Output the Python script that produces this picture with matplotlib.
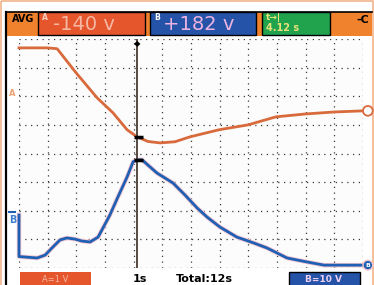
import numpy as np
import matplotlib.pyplot as plt
import matplotlib.patheffects as pe
from matplotlib.patches import Rectangle, Circle

# trace A (orange), time in s, level in divisions
t_a = [0, 1.0, 1.33, 1.99, 2.72, 3.28, 3.77, 4.12, 4.5, 4.92, 5.44, 5.96, 6.98, 7.99, 8.96, 9.98, 10.99, 12.0]
v_a = [7.69, 7.69, 7.66, 6.82, 5.95, 5.42, 4.83, 4.58, 4.42, 4.37, 4.41, 4.58, 4.83, 5.0, 5.28, 5.38, 5.45, 5.49]

# trace B (blue)
t_b = [0, 0, 0.63, 0.91, 1.15, 1.43, 1.67, 1.95, 2.2, 2.48, 2.76, 2.93, 3.17, 3.45, 3.77, 3.98, 4.12, 4.29,
       4.81, 5.37, 5.79, 6.21, 6.56, 7.01, 7.60, 8.20, 8.65, 9.35, 10.05, 10.64, 11.68, 12.0]
v_b = [1.85, 0.40, 0.35, 0.45, 0.70, 0.98, 1.05, 1.01, 0.94, 0.91, 1.08, 1.40, 1.85, 2.48, 3.18, 3.71, 3.78, 3.78,
       3.32, 2.97, 2.55, 2.10, 1.78, 1.43, 1.08, 0.87, 0.70, 0.35, 0.21, 0.10, 0.10, 0.10]

cursor_t = 4.12
reading_a = "-140 v"
reading_b = "+182 v"
reading_t = "4.12 s"
scale_a = "A=1 V"
scale_b = "B=10 V"
timebase = "1s"
total = "Total:12s"

ORANGE = "#f0822e"
RED = "#e5562c"
BLUE = "#2453a8"
GREEN = "#21a24c"
TRACE_A = "#d86a3c"
TRACE_B = "#1f5fb4"

fig = plt.figure(figsize=(3.74, 2.85), dpi=100)
fig.patch.set_facecolor("white")

# decoration layer in pixel coordinates
deco = fig.add_axes([0, 0, 1, 1])
deco.set_xlim(0, 374)
deco.set_ylim(285, 0)
deco.axis("off")

deco.add_patch(Rectangle((1, 1), 372, 290, fill=False, ec="#f2b48a", lw=1.2))
deco.add_patch(Rectangle((6, 12), 366, 24, fc=ORANGE, ec="none"))
deco.plot([6, 6], [12, 285], color="black", lw=1.6)
deco.plot([6, 372], [12, 12], color="black", lw=1.2)
deco.text(12, 19, "AVG", fontsize=7, fontweight="bold", color="black", va="center")

deco.add_patch(Rectangle((38, 12), 107, 23, fc=RED, ec="black", lw=1))
deco.text(42, 18, "A", fontsize=5.5, fontweight="bold", color="#f8d0c0", va="center")
deco.text(53, 25, reading_a, fontsize=14, color="#f6b8a4", va="center")

deco.add_patch(Rectangle((150, 12), 106, 23, fc=BLUE, ec="black", lw=1))
deco.text(154, 18, "B", fontsize=5.5, fontweight="bold", color="white", va="center")
deco.text(163, 25, reading_b, fontsize=14, color="#ecb4e0", va="center")

deco.add_patch(Rectangle((262, 12), 68, 23, fc=GREEN, ec="black", lw=1))
deco.text(266, 18, "t\u2192|", fontsize=6.5, fontweight="bold", color="#e8e27a", va="center")
deco.text(266, 28, reading_t, fontsize=7, fontweight="bold", color="#e8e27a", va="center")
deco.text(356, 20, "-C", fontsize=8, fontweight="bold", color="black", va="center")

deco.add_patch(Rectangle((20, 272), 71, 16, fc=RED, ec="none"))
deco.text(55, 279, scale_a, fontsize=6, color="#f6b8a4", va="center", ha="center")
deco.add_patch(Rectangle((289, 272), 71, 16, fc=BLUE, ec="black", lw=1))
deco.text(324, 279, scale_b, fontsize=6.5, fontweight="bold", color="#f0d0f0", va="center", ha="center")
deco.text(133, 279, timebase, fontsize=8, fontweight="bold", color="black", va="center")
deco.text(176, 279, total, fontsize=8, fontweight="bold", color="black", va="center")

# left level markers
deco.text(9, 93, "A", fontsize=6, fontweight="bold", color="#f0a070", va="center")
deco.plot([9, 15], [212, 212], color=TRACE_B, lw=1.5)
deco.text(9, 220, "B", fontsize=7, fontweight="bold", color="#3f7fd0", va="center")

# scope screen
ax = fig.add_axes([19 / 374, 17 / 285, 344 / 374, 229 / 285])
ax.set_facecolor("#fcfcfc")
ax.set_xlim(0, 12)
ax.set_ylim(0, 8)
for s in ax.spines.values():
    s.set_visible(False)
ax.set_xticks([])
ax.set_yticks([])

for x in range(13):
    ax.axvline(x, color="#3a3a3a", lw=0.9, linestyle=(0, (1, 3.6)), zorder=1)
for y in range(9):
    ax.axhline(y, color="#3a3a3a", lw=0.9, linestyle=(0, (1, 3.6)), zorder=1)

halo = [pe.Stroke(linewidth=3.2, foreground="#f4c4cc"), pe.Normal()]
ax.plot(t_a, v_a, color=TRACE_A, lw=2.0, zorder=3, clip_on=False)
ax.plot(t_b, v_b, color=TRACE_B, lw=2.0, zorder=3, path_effects=halo, clip_on=False)

# cursor
ax.axvline(cursor_t, color="#4a3c34", lw=1.3, zorder=4)
ax.text(cursor_t, 7.85, "\u25c6", fontsize=6, color="black", ha="center", va="center", zorder=5)
ya = np.interp(cursor_t, t_a, v_a)
yb = np.interp(cursor_t, t_b[1:], v_b[1:])
ax.plot([cursor_t - 0.1, cursor_t + 0.2], [ya, ya], color="black", lw=2.5, zorder=5, solid_capstyle="butt")
ax.plot([cursor_t - 0.1, cursor_t + 0.2], [yb, yb], color="black", lw=2.5, zorder=5, solid_capstyle="butt")

# right end markers
ax.add_patch(Circle((12.17, v_a[-1]), 0.17, transform=ax.transData, fc="white", ec=TRACE_A, lw=1.3, clip_on=False, zorder=6))
ax.add_patch(Circle((12.17, v_b[-1]), 0.17, transform=ax.transData, fc=TRACE_B, ec="#f4c4cc", lw=1, clip_on=False, zorder=6))
ax.text(12.17, v_b[-1], "B", fontsize=4.5, fontweight="bold", color="white", ha="center", va="center", zorder=7, clip_on=False)

fig.savefig("out.png", dpi=100)
